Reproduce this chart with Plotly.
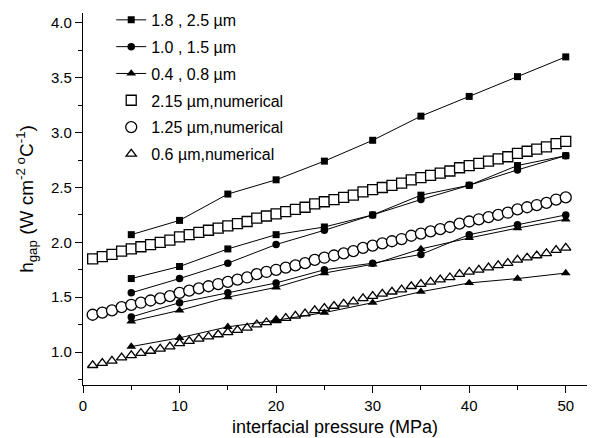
import plotly.graph_objects as go

# ---------------- data ----------------
p_exp = [5, 10, 15, 20, 25, 30, 35, 40, 45, 50]
sq_a = [2.07, 2.20, 2.44, 2.57, 2.74, 2.93, 3.15, 3.33, 3.51, 3.69]
sq_b = [1.67, 1.78, 1.94, 2.07, 2.14, 2.25, 2.43, 2.52, 2.70, 2.79]
ci_a = [1.54, 1.67, 1.81, 1.98, 2.11, 2.25, 2.39, 2.52, 2.66, 2.79]
ci_b = [1.32, 1.45, 1.54, 1.63, 1.75, 1.81, 1.89, 2.07, 2.16, 2.25]
tr_a = [1.28, 1.38, 1.50, 1.59, 1.72, 1.80, 1.94, 2.04, 2.13, 2.21]
tr_b = [1.05, 1.13, 1.23, 1.29, 1.36, 1.45, 1.55, 1.63, 1.67, 1.72]

p_num = list(range(1, 51))
num_sq = [1.85, 1.87, 1.89, 1.92, 1.94, 1.96, 1.98, 2.00, 2.02, 2.05,
          2.07, 2.09, 2.11, 2.13, 2.15, 2.17, 2.19, 2.22, 2.24, 2.26,
          2.28, 2.30, 2.32, 2.35, 2.37, 2.39, 2.41, 2.43, 2.46, 2.48,
          2.50, 2.52, 2.54, 2.57, 2.59, 2.61, 2.63, 2.65, 2.68, 2.70,
          2.72, 2.74, 2.76, 2.78, 2.81, 2.83, 2.85, 2.87, 2.90, 2.92]
num_ci = [1.34, 1.36, 1.38, 1.41, 1.43, 1.45, 1.47, 1.49, 1.51, 1.54,
          1.56, 1.58, 1.60, 1.62, 1.64, 1.66, 1.68, 1.71, 1.73, 1.75,
          1.77, 1.79, 1.81, 1.84, 1.86, 1.88, 1.90, 1.92, 1.95, 1.97,
          1.99, 2.01, 2.03, 2.06, 2.08, 2.10, 2.12, 2.14, 2.17, 2.19,
          2.21, 2.23, 2.25, 2.27, 2.30, 2.32, 2.34, 2.36, 2.39, 2.41]
num_tr = [0.88, 0.90, 0.92, 0.95, 0.97, 0.99, 1.01, 1.03, 1.05, 1.08,
          1.10, 1.12, 1.14, 1.16, 1.18, 1.20, 1.22, 1.25, 1.27, 1.29,
          1.31, 1.33, 1.35, 1.38, 1.40, 1.42, 1.44, 1.46, 1.49, 1.51,
          1.53, 1.55, 1.57, 1.60, 1.62, 1.64, 1.66, 1.68, 1.71, 1.73,
          1.75, 1.77, 1.79, 1.81, 1.84, 1.86, 1.88, 1.90, 1.93, 1.95]

exp_names = ["1.8 , 2.5 \u00b5m", "1.0 , 1.5 \u00b5m", "0.4 , 0.8 \u00b5m"]
num_names = ["2.15 \u00b5m,numerical", "1.25 \u00b5m,numerical", "0.6 \u00b5m,numerical"]
x_ticks = [0, 10, 20, 30, 40, 50]
y_ticks = [1.0, 1.5, 2.0, 2.5, 3.0, 3.5, 4.0]
x_title = "interfacial pressure (MPa)"
y_title = "h<sub>gap</sub> (W cm<sup>-2 o</sup>C<sup>-1</sup>)"

FONT = "Liberation Sans, Arial, sans-serif"

fig = go.Figure()

# numerical (open markers), drawn first
num_specs = [(num_sq, "square", 10, num_names[0], 4),
             (num_ci, "circle", 11, num_names[1], 5),
             (num_tr, "triangle-up", 9, num_names[2], 6)]
for ys, sym, sz, name, rank in num_specs:
    fig.add_trace(go.Scatter(
        x=p_num, y=ys, mode="markers", name=name,
        legendgroup=name, legendrank=rank,
        marker=dict(symbol=sym, size=sz, color="white",
                    line=dict(color="black", width=1.3)),
    ))

# experimental (filled markers with lines)
exp_specs = [((sq_a, sq_b), "square", 7, exp_names[0], 1),
             ((ci_a, ci_b), "circle", 7.5, exp_names[1], 2),
             ((tr_a, tr_b), "triangle-up", 8.5, exp_names[2], 3)]
for pair, sym, sz, name, rank in exp_specs:
    for i, ys in enumerate(pair):
        fig.add_trace(go.Scatter(
            x=p_exp, y=ys, mode="lines+markers", name=name,
            legendgroup=name, legendrank=rank, showlegend=(i == 0),
            line=dict(color="black", width=1),
            marker=dict(symbol=sym, size=sz, color="black"),
        ))

axis_common = dict(
    showgrid=False, zeroline=False, showline=True, linecolor="black",
    linewidth=1.3, ticks="outside", ticklen=7, tickwidth=1.3,
    tickcolor="black", tickfont=dict(family=FONT, size=15, color="black"),
)

fig.update_xaxes(
    range=[0, 52.2], tickvals=x_ticks,
    minor=dict(ticks="outside", ticklen=4, tickwidth=1.3, tickcolor="black",
               dtick=5, tick0=0),
    **axis_common,
)
fig.update_yaxes(
    range=[0.7, 4.09], tickvals=y_ticks, ticktext=[f"{v:.1f}" for v in y_ticks],
    title=dict(text=y_title,
               font=dict(family=FONT, size=19, color="black"), standoff=12),
    minor=dict(ticks="outside", ticklen=4, tickwidth=1.3, tickcolor="black",
               dtick=0.25, tick0=0.75),
    **axis_common,
)

fig.add_annotation(
    text=x_title, xref="paper", yref="paper", x=0.5, y=-0.112,
    xanchor="center", yanchor="middle", showarrow=False,
    font=dict(family=FONT, size=18, color="black"),
)

fig.update_layout(
    width=595, height=438,
    margin=dict(l=83, r=8, t=13, b=53, autoexpand=False),
    plot_bgcolor="white", paper_bgcolor="white",
    showlegend=True,
    legend=dict(x=0.056, y=1.027, xanchor="left", yanchor="top",
                traceorder="grouped", tracegroupgap=3,
                bgcolor="rgba(0,0,0,0)",
                font=dict(family=FONT, size=16, color="black")),
)

fig.write_html("out.html", config={"displayModeBar": False},
               post_script="document.body.style.margin='0';")
